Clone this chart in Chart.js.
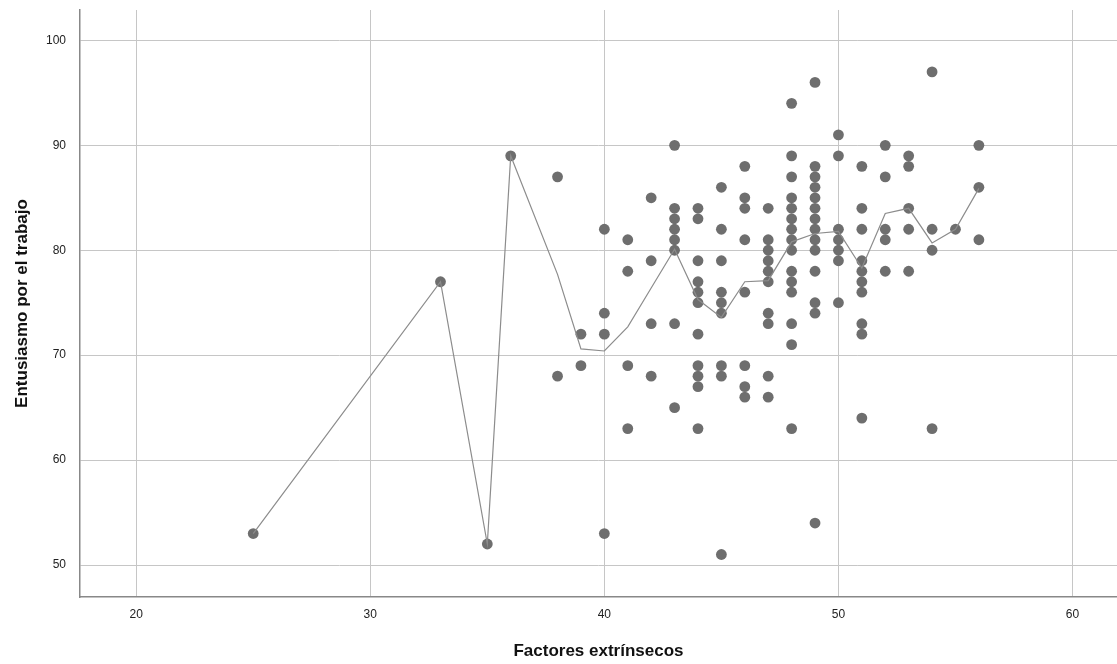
<!DOCTYPE html>
<html>
<head>
<meta charset="utf-8">
<script src="https://cdn.jsdelivr.net/npm/chart.js@4/dist/chart.umd.min.js"></script>
<style>
  html, body { margin: 0; padding: 0; background: #fff; }
  #wrap { width: 1117px; height: 664px; }
</style>
</head>
<body>
<div id="wrap"><canvas id="chart" width="1117" height="664"></canvas></div>
<script>
// Factores extrínsecos (x) and the Entusiasmo scores observed at each value
const factorValues = [25, 33, 35, 36, 38, 39, 40, 41, 42, 43, 44, 45, 46, 47, 48, 49, 50, 51, 52, 53, 54, 55, 56];
const enthusiasmByFactor = [
	[53],
	[77],
	[52],
	[89],
	[87, 68],
	[72, 69],
	[82, 74, 72, 53],
	[81, 78, 69, 63],
	[85, 79, 73, 68],
	[90, 84, 83, 82, 81, 80, 73, 65],
	[84, 83, 79, 77, 76, 75, 72, 69, 68, 67, 63],
	[86, 82, 79, 76, 75, 74, 69, 68, 51],
	[88, 85, 84, 81, 76, 69, 67, 66],
	[84, 81, 80, 79, 78, 77, 74, 73, 68, 66],
	[94, 89, 87, 85, 84, 83, 82, 81, 80, 78, 77, 76, 73, 71, 63],
	[96, 88, 87, 86, 85, 84, 83, 82, 81, 80, 78, 75, 74, 54],
	[91, 89, 82, 81, 80, 79, 75],
	[88, 84, 82, 79, 78, 77, 76, 73, 72, 64],
	[90, 87, 82, 81, 78],
	[89, 88, 84, 82, 78],
	[97, 82, 80, 63],
	[82],
	[90, 86, 81]
];
// fit line (mean at each x)
const meanLine = [53, 77, 52, 89, 77.7, 70.6, 70.4, 72.7, 76.4, 80.1, 75.3, 73.6, 77.0, 77.1, 80.8, 81.6, 81.8, 78.3, 83.5, 84.0, 80.7, 82.0, 85.9];

const xTitle = 'Factores extrínsecos';
const yTitle = 'Entusiasmo por el trabajo';

const scatterData = factorValues.flatMap((x, i) => enthusiasmByFactor[i].map(y => ({x: x, y: y})));
const lineData = factorValues.map((x, i) => ({x: x, y: meanLine[i]}));

const fontFamily = '"Liberation Sans", Arial, sans-serif';

const ctx = document.getElementById('chart').getContext('2d');
new Chart(ctx, {
	type: 'scatter',
	data: {
		datasets: [
			{
				type: 'line',
				data: lineData,
				borderColor: '#8c8c8c',
				borderWidth: 1.2,
				pointRadius: 0,
				fill: false,
				tension: 0,
				order: 0
			},
			{
				type: 'scatter',
				data: scatterData,
				backgroundColor: '#6e6e6e',
				borderColor: '#6e6e6e',
				borderWidth: 0,
				pointRadius: 5.4,
				order: 1
			}
		]
	},
	options: {
		responsive: false,
		animation: false,
		layout: { autoPadding: false, padding: { top: 10, right: 0, bottom: 0, left: 0 } },
		plugins: {
			legend: { display: false },
			tooltip: { enabled: false }
		},
		scales: {
			x: {
				type: 'linear',
				min: 17.6,
				max: 61.9,
				afterFit: (scale) => {
					scale.height = 67;
					scale.paddingLeft = 0;
					scale.paddingRight = 0;
				},
				ticks: {
					stepSize: 10,
					includeBounds: false,
					color: '#222',
					padding: 10,
					font: { family: fontFamily, size: 12 }
				},
				grid: { color: '#c6c6c6', lineWidth: 1, drawTicks: false },
				border: { color: '#888', width: 1.5 },
				title: {
					display: true,
					text: xTitle,
					color: '#111',
					padding: { top: 0, bottom: 2 },
					font: { family: fontFamily, size: 17, weight: 'bold' }
				}
			},
			y: {
				type: 'linear',
				min: 46.95,
				max: 102.9,
				afterFit: (scale) => {
					scale.width = 80;
					scale.paddingTop = 0;
					scale.paddingBottom = 0;
				},
				ticks: {
					stepSize: 10,
					includeBounds: false,
					color: '#222',
					padding: 14,
					font: { family: fontFamily, size: 12 }
				},
				grid: { color: '#c6c6c6', lineWidth: 1, drawTicks: false },
				border: { color: '#888', width: 1.5 },
				title: {
					display: true,
					text: yTitle,
					color: '#111',
					padding: { top: 12, bottom: 0 },
					font: { family: fontFamily, size: 17, weight: 'bold' }
				}
			}
		}
	}
});
</script>
</body>
</html>
